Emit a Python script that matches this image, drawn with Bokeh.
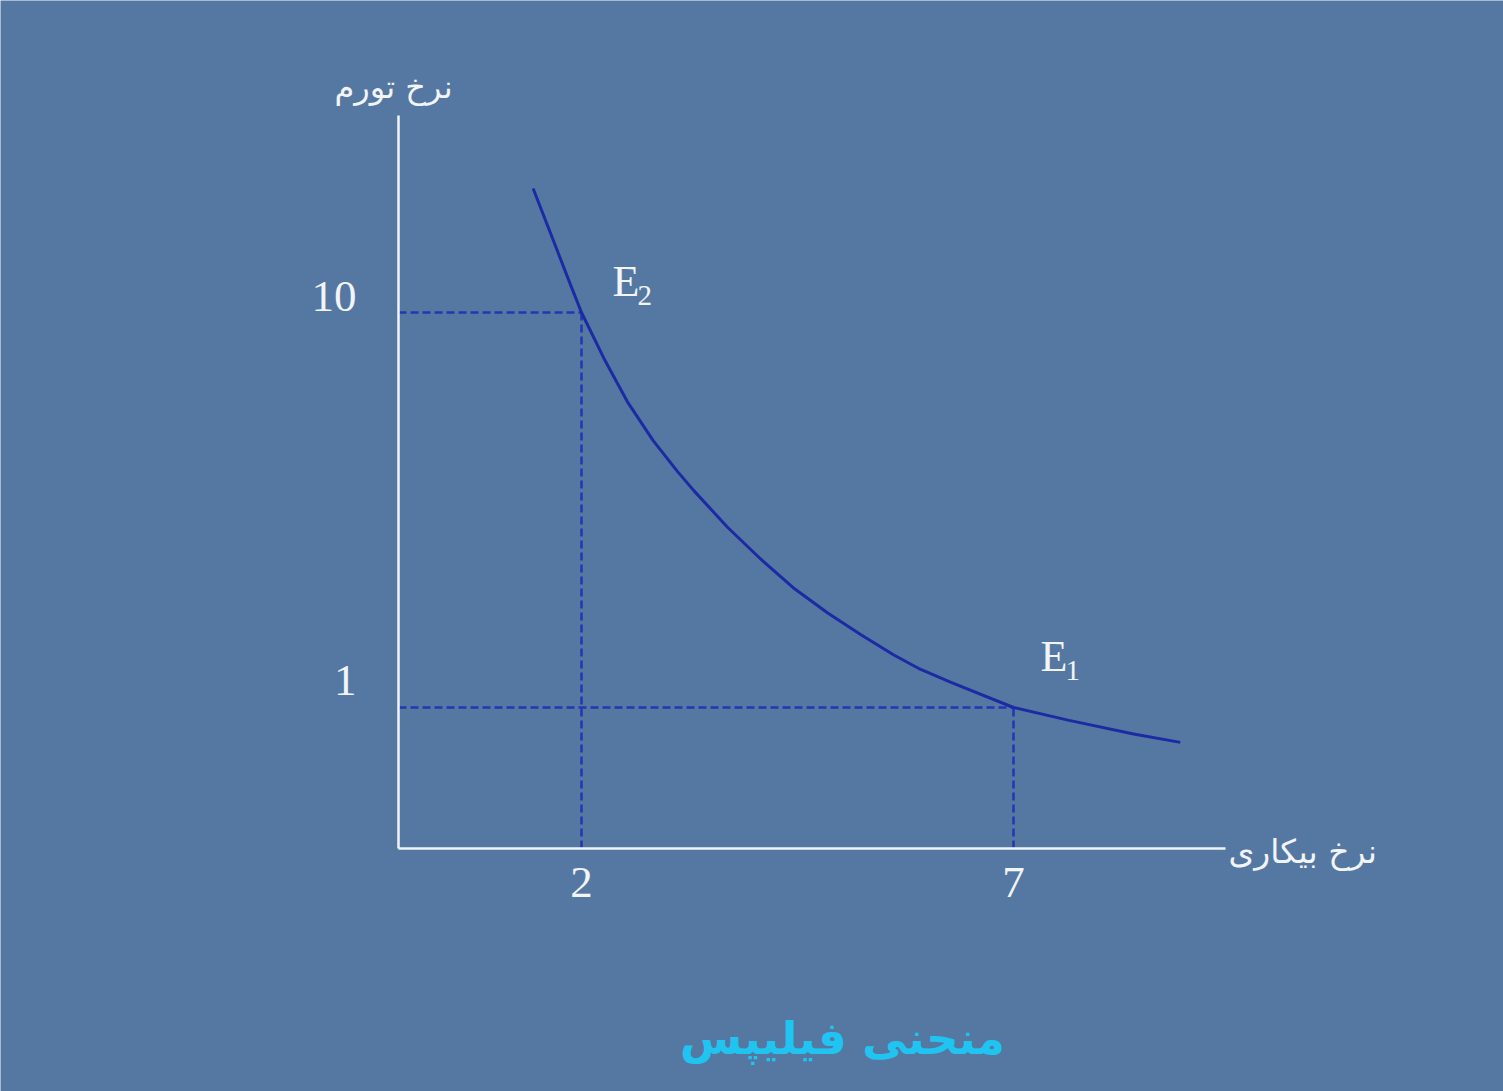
import math
from bokeh.plotting import figure
from bokeh.models import (Range1d, FixedTicker, BasicTickFormatter, Label,
                          LinearAxis, LogAxis)
from bokeh.embed import file_html
from bokeh.resources import INLINE

# Phillips curve: unemployment rate (%) against inflation rate (%)
unemployment = [1.44, 1.68, 1.87, 2.0, 2.26, 2.53, 2.83, 3.11, 3.30, 3.69, 4.07,
                4.45, 4.85, 5.23, 5.61, 5.92, 6.27, 7.0, 7.63, 8.39, 8.93]
inflation = [20.6, 15.1, 11.8, 10.0, 7.65, 5.95, 4.74, 3.96, 3.54, 2.86, 2.38,
             2.01, 1.735, 1.53, 1.36, 1.25, 1.16, 1.0, 0.929, 0.857, 0.816]

# Two marked equilibria on the curve
point_names = ["E", "E"]
point_subs = ["2", "1"]
point_u = [2, 7]
point_pi = [10, 1]

x_ticks = [2, 7]
y_ticks = [1, 10]
y_tick_labels = ["1", "10"]

x_title = "نرخ بیکاری"
y_title = "نرخ تورم"
chart_title = "منحنی فیلیپس"

W, H = 1503, 1091

# data window of the whole canvas
X_LO, X_HI = -4.7245, 12.6713
Y_LO, Y_HI = 0.10661, 61.64
# extent of the drawn axes (origin and far ends)
AX0, AX1 = -0.118, 9.454
AY0, AY1 = 0.4396, 31.52

BG = "#5578a2"
WHITE = "#f1f4f8"
CURVE = "#1c2ba4"
DASH = "#2535b4"

p = figure(width=W, height=H, output_backend="svg", toolbar_location=None,
           x_range=Range1d(X_LO, X_HI), y_range=Range1d(Y_LO, Y_HI),
           y_axis_type="log", x_axis_location=None, y_axis_location=None,
           min_border=0)
p.background_fill_color = BG
p.border_fill_color = BG
p.outline_line_color = None
p.grid.visible = False


def cx(px):
    """canvas x pixel -> data x"""
    return X_LO + px / W * (X_HI - X_LO)


def cy(py):
    """canvas y pixel -> data y on the log scale"""
    l0, l1 = math.log10(Y_LO), math.log10(Y_HI)
    return 10 ** (l0 + (H - py) / H * (l1 - l0))


# axes drawn at the origin, spanning only the chart area
xaxis = LinearAxis(fixed_location=AY0, bounds=(AX0, AX1),
                   ticker=FixedTicker(ticks=x_ticks), formatter=BasicTickFormatter())
yaxis = LogAxis(fixed_location=AX0, bounds=(AY0, AY1), ticker=FixedTicker(ticks=[]))
for ax in (xaxis, yaxis):
    ax.axis_line_color = WHITE
    ax.axis_line_width = 2.5
    ax.major_tick_in = 0
    ax.major_tick_out = 0
    ax.minor_tick_in = 0
    ax.minor_tick_out = 0
    ax.major_label_text_font = "Liberation Serif"
    ax.major_label_text_font_size = "45px"
    ax.major_label_text_color = WHITE
xaxis.major_label_standoff = 20
p.add_layout(xaxis, "below")
p.add_layout(yaxis, "left")

# inflation tick values, set beside the vertical axis
p.text(x=[AX0] * len(y_ticks), y=y_ticks, text=y_tick_labels,
       x_offset=-42, y_offset=[-27, -16],
       text_font="Liberation Serif", text_font_size="45px", text_color=WHITE,
       text_align="right", text_baseline="middle")

# dashed guides from the axes to the two marked points
p.segment(x0=[AX0] * len(point_u), y0=point_pi, x1=point_u, y1=point_pi,
          line_color=DASH, line_width=2.5, line_dash="8 4")
p.segment(x0=point_u, y0=[AY0] * len(point_u), x1=point_u, y1=point_pi,
          line_color=DASH, line_width=2.5, line_dash="8 4")

# the curve
p.line(unemployment, inflation, line_color=CURVE, line_width=3)

# point names with subscripts
name_pos = [(612, 281), (1040, 656)]
for (px, py), nm, sub in zip(name_pos, point_names, point_subs):
    p.add_layout(Label(x=cx(px), y=cy(py), text=nm, text_font="Liberation Serif",
                       text_font_size="44px", text_color=WHITE,
                       text_align="left", text_baseline="middle"))
    p.add_layout(Label(x=cx(px + 25), y=cy(py + 14), text=sub, text_font="Liberation Serif",
                       text_font_size="29px", text_color=WHITE,
                       text_align="left", text_baseline="middle"))

# axis titles
p.add_layout(Label(x=cx(393), y=cy(86), text=y_title, text_font="DejaVu Sans",
                   text_font_size="32px", text_color=WHITE,
                   text_align="center", text_baseline="middle"))
p.add_layout(Label(x=cx(1228), y=cy(851), text=x_title, text_font="DejaVu Sans",
                   text_font_size="33px", text_color=WHITE,
                   text_align="left", text_baseline="middle"))

# chart title under the plot
p.add_layout(Label(x=cx(842), y=cy(1038), text=chart_title, text_font="DejaVu Sans",
                   text_font_size="45px", text_font_style="bold", text_color="#20c4f0",
                   text_align="center", text_baseline="middle"))

open("out.html", "w").write(file_html(p, INLINE))
